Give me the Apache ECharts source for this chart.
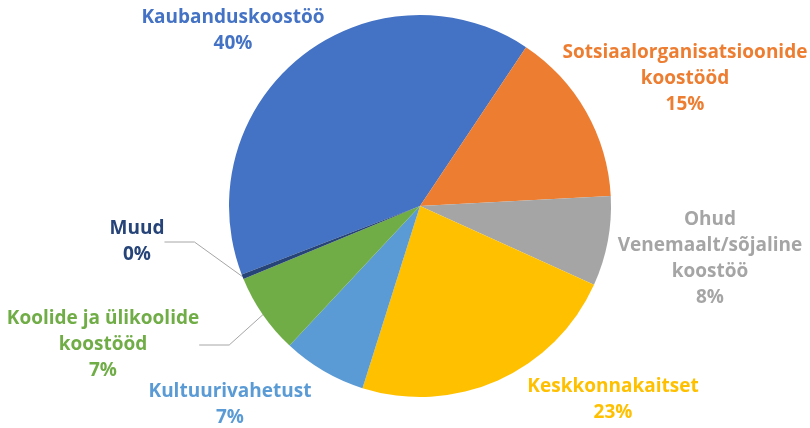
<!DOCTYPE html>
<html>
<head>
<meta charset="utf-8">
<script src="https://cdn.jsdelivr.net/npm/echarts@6/dist/echarts.min.js"></script>
<style>
html,body{margin:0;padding:0;background:#fff;}
#c{width:810px;height:428px;}
</style>
</head>
<body>
<div id="c"></div>
<script>
const categories = ["Kaubanduskoostöö", "Sotsiaalorganisatsioonide\nkoostööd", "Ohud\nVenemaalt/sõjaline\nkoostöö", "Keskkonnakaitset", "Kultuurivahetust", "Koolide ja ülikoolide\nkoostööd", "Muud"];
const values = [40.2, 14.8, 7.6, 23.1, 7.1, 6.8, 0.4];
const colors = ["#4472C4", "#ED7D31", "#A5A5A5", "#FFC000", "#5B9BD5", "#70AD47", "#264478"];
const showLines = [false, false, false, false, false, true, true];
const labelPos = [[233, 31], [685, 79], [710, 259], [613, 400], [230, 405], [103, 345], [137, 242]];

const chart = echarts.init(document.getElementById('c'), null, {renderer: 'canvas'});
const data = categories.map((name, i) => ({
  name: name,
  value: values[i],
  itemStyle: {color: colors[i]},
  label: {color: colors[i]},
  labelLine: {show: showLines[i]}
}));
chart.setOption({
  animation: false,
  backgroundColor: '#ffffff',
  series: [{
    type: 'pie',
    center: [420, 206],
    radius: [0, 191],
    startAngle: 201,
    clockwise: true,
    percentPrecision: 0,
    avoidLabelOverlap: false,
    data: data,
    label: {
      show: true,
      position: 'outside',
      formatter: '{b}\n{d}%',
      fontFamily: 'Open Sans',
      fontWeight: 'bold',
      fontSize: 19,
      lineHeight: 26,
      align: 'center'
    },
    labelLine: {
      lineStyle: {color: '#a6a6a6', width: 1}
    },
    labelLayout: function (p) {
      const pos = labelPos[p.dataIndex];
      return {x: pos[0], y: pos[1], align: 'center', verticalAlign: 'middle'};
    }
  }]
});
</script>
</body>
</html>
